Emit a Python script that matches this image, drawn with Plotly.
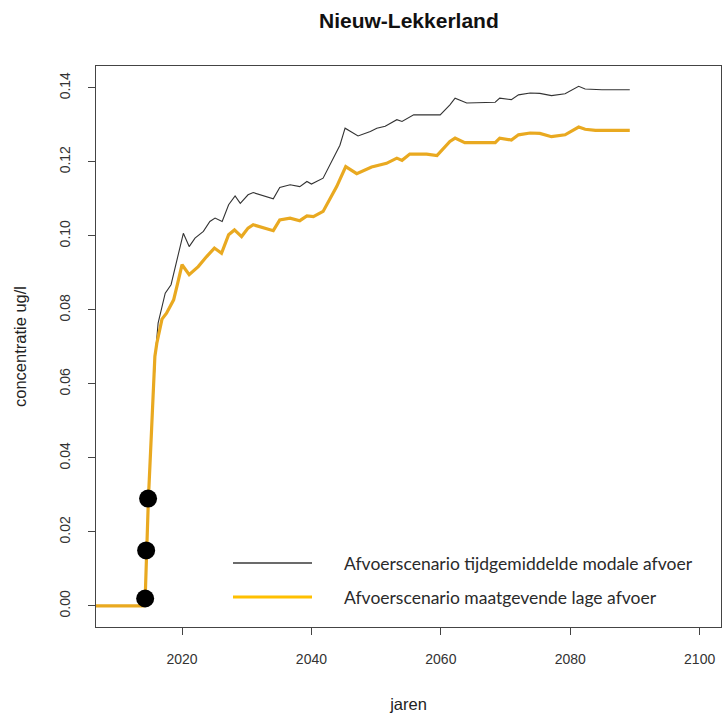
import plotly.graph_objects as go

# ---- data ----
years_modaal = [2005, 2014.0, 2014.3, 2014.5, 2014.8, 2015.3, 2015.9, 2016.3, 2017.4, 2018.3, 2019.2,
                2020.2, 2021.1, 2022.0, 2023.3, 2024.3, 2025.1, 2026.2, 2027.2, 2028.2, 2029.0,
                2030.2, 2031.0, 2034.1, 2035.1, 2036.7, 2038.2, 2039.3, 2040.0, 2041.8, 2044.4,
                2045.2, 2047.2, 2049.1, 2050.1, 2051.4, 2053.2, 2054.0, 2055.8, 2059.9, 2061.4,
                2062.2, 2064.0, 2068.4, 2069.1, 2070.9, 2072.0, 2073.8, 2075.3, 2077.1, 2079.2,
                2081.3, 2082.3, 2084.9, 2089.2]
conc_modaal = [0.0, 0.0, 0.002, 0.015, 0.029, 0.048, 0.0683, 0.0764, 0.0845, 0.0868, 0.0930,
               0.1007, 0.0971, 0.0994, 0.1012, 0.1039, 0.1048, 0.1039, 0.1084, 0.1108, 0.1088,
               0.1111, 0.1117, 0.1100, 0.1131, 0.1138, 0.1133, 0.1147, 0.1140, 0.1156, 0.1245,
               0.1291, 0.1270, 0.1282, 0.1291, 0.1296, 0.1314, 0.1309, 0.1327, 0.1327, 0.1354,
               0.1372, 0.1359, 0.1361, 0.1372, 0.1368, 0.1381, 0.1386, 0.1385, 0.1379, 0.1384,
               0.1404, 0.1397, 0.1395, 0.1395]

years_laag = [2005, 2014.0, 2014.3, 2014.5, 2014.8, 2015.3, 2015.8, 2016.1, 2016.9, 2017.6, 2018.7,
              2019.3, 2020.0, 2021.1, 2022.5, 2023.8, 2025.0, 2026.1, 2027.2, 2028.1, 2029.2,
              2030.2, 2031.0, 2034.1, 2035.1, 2036.7, 2038.2, 2039.3, 2040.3, 2041.8, 2043.9,
              2045.3, 2047.0, 2049.3, 2051.6, 2053.2, 2054.0, 2055.2, 2057.8, 2059.4, 2061.4,
              2062.2, 2063.7, 2068.4, 2069.1, 2070.9, 2072.0, 2073.8, 2075.3, 2077.1, 2079.2,
              2081.3, 2082.3, 2083.9, 2089.2]
conc_laag = [0.0, 0.0, 0.002, 0.015, 0.029, 0.048, 0.0674, 0.0710, 0.0775, 0.0791, 0.0827,
             0.0870, 0.0922, 0.0895, 0.0917, 0.0944, 0.0967, 0.0953, 0.1003, 0.1016, 0.0998,
             0.1021, 0.1030, 0.1014, 0.1043, 0.1048, 0.1041, 0.1054, 0.1052, 0.1066, 0.1133,
             0.1187, 0.1168, 0.1186, 0.1196, 0.1210, 0.1204, 0.1221, 0.1221, 0.1217, 0.1255,
             0.1264, 0.1252, 0.1252, 0.1264, 0.1259, 0.1273, 0.1278, 0.1277, 0.1268, 0.1273,
             0.1294, 0.1288, 0.1285, 0.1285]

meet_jaren = [2014.3, 2014.45, 2014.75]
meet_conc = [0.002, 0.015, 0.029]

x_ticks = [2020, 2040, 2060, 2080, 2100]
y_ticks = [0.00, 0.02, 0.04, 0.06, 0.08, 0.10, 0.12, 0.14]
y_ticklabels = ["0.00", "0.02", "0.04", "0.06", "0.08", "0.10", "0.12", "0.14"]

legend_labels = ["Afvoerscenario tijdgemiddelde modale afvoer",
                 "Afvoerscenario maatgevende lage afvoer"]

fig = go.Figure()
fig.add_trace(go.Scatter(x=years_modaal, y=conc_modaal, mode="lines",
                         line=dict(color="#333333", width=1.1), showlegend=False))
fig.add_trace(go.Scatter(x=years_laag, y=conc_laag, mode="lines",
                         line=dict(color="#E9A920", width=3.2), showlegend=False))
fig.add_trace(go.Scatter(x=meet_jaren, y=meet_conc, mode="markers",
                         marker=dict(color="black", size=18), showlegend=False))

font_fam = "Liberation Sans, Arial, sans-serif"

fig.update_layout(
    width=723, height=717,
    margin=dict(l=96, r=2, t=66, b=90),
    plot_bgcolor="white", paper_bgcolor="white",
    font=dict(family=font_fam, size=14, color="#222222"),
    xaxis=dict(range=[2006.7, 2103.3], tickvals=x_ticks, ticks="outside", ticklen=7,
               tickcolor="#444444", showline=True, linecolor="#444444", linewidth=1.3,
               mirror=True, showgrid=False, zeroline=False, ticklabelstandoff=12,
               tickfont=dict(size=14, color="#333333"),
               title=dict(text="jaren", font=dict(size=16.5, color="#222222"), standoff=32)),
    yaxis=dict(range=[-0.0057, 0.1459], tickvals=y_ticks, ticktext=y_ticklabels,
               ticks="outside", ticklen=7, tickangle=-90, ticklabelstandoff=12,
               tickcolor="#444444", showline=True, linecolor="#444444", linewidth=1.3,
               mirror=True, showgrid=False, zeroline=False,
               tickfont=dict(size=14, color="#333333"),
               title=dict(text="concentratie ug/l", font=dict(size=16.5, color="#222222"), standoff=26)),
)

# title
fig.add_annotation(text="<b>Nieuw-Lekkerland</b>", xref="paper", yref="paper",
                   x=0.5, y=1.0, yshift=59, showarrow=False,
                   font=dict(size=21, color="#111111", family=font_fam))

# legend (drawn as in the pasted legend of the reference)
leg_colors = ["#3a3a3a", "#FFC000"]
leg_widths = [1.5, 3]
for i, lab in enumerate(legend_labels):
    yy = 1 - (563 + 34 * i - 66) / 561
    fig.add_shape(type="line", xref="paper", yref="paper",
                  x0=(233 - 96) / 625, x1=(312 - 96) / 625, y0=yy, y1=yy,
                  line=dict(color=leg_colors[i], width=leg_widths[i]))
    fig.add_annotation(text=lab, xref="paper", yref="paper",
                       x=(342 - 96) / 625, y=yy, xanchor="left", yanchor="middle",
                       showarrow=False,
                       font=dict(size=17.5, color="#2a2a2a", family="Lato, Open Sans, sans-serif"))

fig.write_html("out.html", config={"displayModeBar": False},
               post_script="document.body.style.margin='0px';")
